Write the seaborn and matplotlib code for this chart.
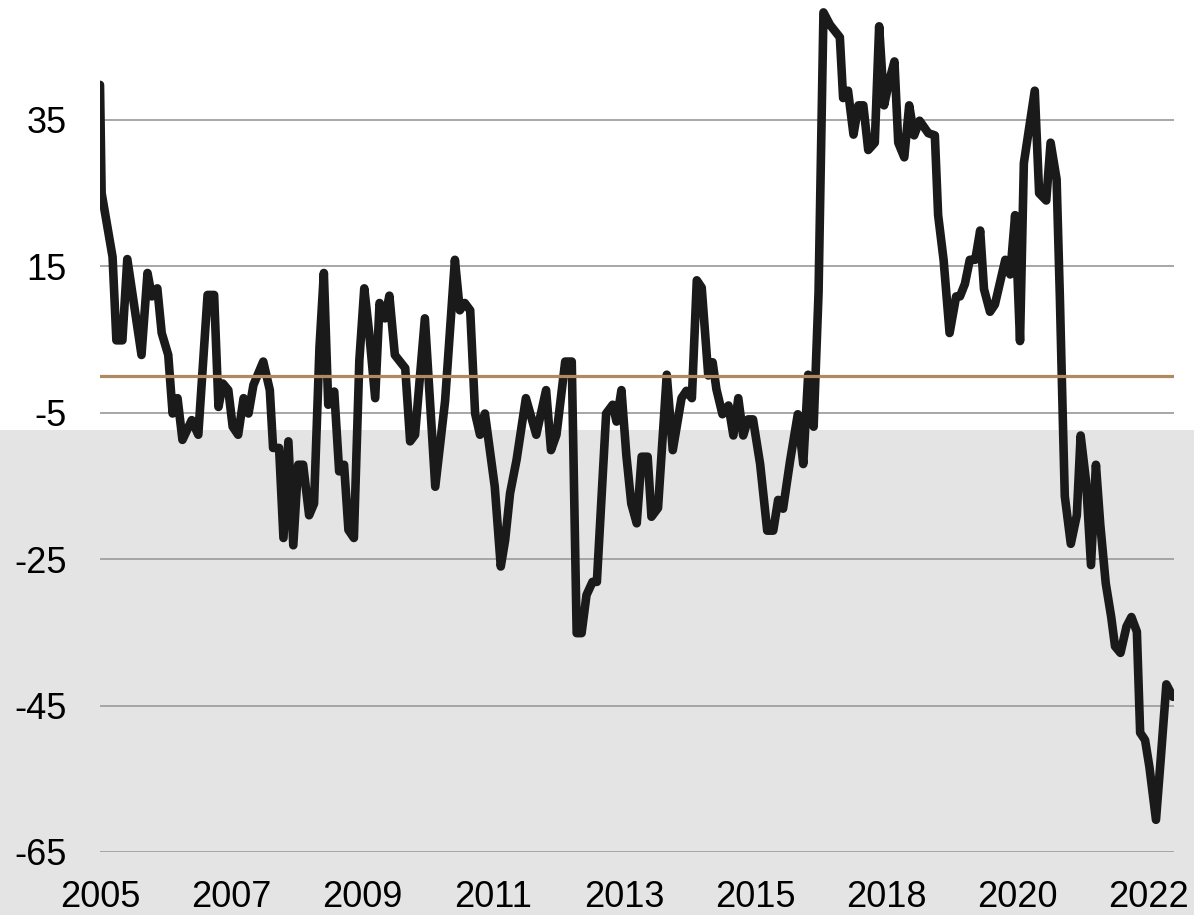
import numpy as np
import pandas as pd
import seaborn as sns
import matplotlib.pyplot as plt
from matplotlib.patches import Rectangle

# month index (from Jan 2005) of each turning point, and the value there
month = [0.0, 0.3, 2.3, 3.0, 4.1, 5.0, 7.6, 8.7, 9.5, 10.5, 11.3, 12.5, 13.3, 14.2,
         15.1, 16.8, 18.0, 19.7, 20.9, 21.7, 22.5, 23.5, 24.3, 25.3, 26.3, 27.2,
         28.1, 29.9, 31.1, 31.7, 32.8, 33.6, 34.5, 35.4, 36.3, 37.2, 38.3, 39.2,
         40.2, 41.0, 41.8, 42.9, 43.8, 44.7, 45.5, 46.5, 47.5, 48.4, 49.3, 50.4,
         51.2, 52.2, 53.0, 54.0, 55.9, 56.8, 57.7, 59.5, 61.4, 63.2, 65.0, 65.9,
         66.8, 67.8, 68.7, 69.6, 70.5, 72.3, 73.4, 74.2, 75.1, 76.3, 78.0, 79.9,
         81.7, 82.6, 83.6, 85.2, 86.4, 87.3, 88.2, 89.1, 90.2, 91.0, 92.7, 93.9,
         94.6, 95.5, 96.4, 97.3, 98.3, 99.2, 100.3, 101.0, 102.2, 103.8, 104.9,
         106.5, 107.4, 108.4, 109.3, 110.2, 111.4, 112.2, 112.9, 114.0, 115.1,
         116.0, 116.9, 117.8, 118.7, 119.6, 120.9, 122.2, 123.3, 124.2, 125.1,
         126.4, 127.8, 128.8, 129.7, 130.7, 131.6, 132.5, 133.7, 135.5, 136.1,
         137.0, 138.0, 138.9, 139.8, 140.7, 141.9, 142.7, 143.6, 144.6, 145.5,
         146.2, 147.3, 148.2, 149.1, 150.1, 151.7, 152.9, 153.5, 154.5, 155.6,
         156.8, 157.5, 158.4, 159.3, 160.3, 161.2, 161.9, 163.0, 163.9, 165.8,
         166.7, 167.6, 168.5, 169.2, 171.2, 172.0, 173.3, 174.1, 175.2, 175.8,
         176.4, 176.7, 177.8, 178.9, 179.6, 180.6, 181.5, 182.4, 183.2, 184.2,
         185.2, 185.9, 186.9, 188.0, 188.9, 189.9, 190.5, 191.4, 192.2, 193.4,
         194.3, 195.3, 196.5]
value = [39.8, 25.0, 16.3, 4.9, 4.9, 16.0, 2.9, 14.1, 10.9, 12.0, 5.9, 2.9, -5.1, -3.0,
         -8.7, -6.0, -8.0, 11.1, 11.1, -4.2, -1.0, -1.9, -6.9, -8.0, -3.0, -5.1,
         -1.2, 2.0, -1.9, -9.8, -9.8, -22.1, -8.9, -23.1, -12.1, -12.1, -19.0, -17.4,
         4.0, 14.1, -3.9, -2.1, -13.0, -12.1, -21.0, -22.1, 2.2, 12.0, 5.9, -3.0,
         10.0, 7.9, 11.0, 2.9, 1.1, -8.9, -8.0, 7.9, -15.1, -3.4, 15.9, 9.0,
         10.0, 9.0, -5.1, -8.0, -5.1, -15.1, -26.0, -22.4, -16.0, -11.4, -3.0, -8.0,
         -1.9, -10.1, -8.0, 2.0, 2.0, -35.1, -35.1, -29.9, -28.1, -28.1, -5.1, -3.9,
         -6.2, -1.9, -10.8, -17.4, -20.1, -11.0, -11.0, -19.2, -18.0, 0.2, -10.1,
         -3.0, -2.0, -3.0, 13.1, 12.1, 0.1, 1.9, -1.8, -5.2, -4.0,
         -8.1, -3.0, -8.1, -5.9, -5.9, -12.0, -21.1, -21.1, -16.9, -18.1,
         -11.5, -5.2, -12.0, 0.2, -6.9, 11.4, 49.7, 48.0, 46.3, 38.0,
         39.0, 33.0, 37.0, 37.0, 30.9, 31.9, 47.8, 37.0, 40.5, 43.0,
         31.9, 29.9, 37.0, 32.9, 34.9, 33.2, 32.9, 22.0, 15.9, 5.9,
         10.9, 10.9, 12.6, 15.9, 15.9, 19.9, 11.9, 8.8, 9.8, 15.9,
         13.9, 22.0, 4.8, 29.1, 39.0, 25.0, 24.0, 31.9, 26.9, 10.7,
         -7.8, -16.4, -22.9, -19.0, -8.1, -14.4, -25.8, -12.1, -20.3, -28.3,
         -32.9, -36.9, -37.8, -34.2, -32.9, -34.9, -48.7, -49.7, -53.4, -60.6,
         -52.0, -42.1, -43.8]

tick_pos = [0, 24, 48, 72, 96, 120, 144, 168, 192]
tick_labels = ['2005', '2007', '2009', '2011', '2013', '2015', '2018', '2020', '2022']
y_ticks = [35, 15, -5, -25, -45, -65]
baseline = 0

df = pd.DataFrame({'month': month, 'value': value})

sns.set_theme(style='white')
plt.rcParams['font.family'] = ['Liberation Sans', 'DejaVu Sans']
plt.rcParams['axes.unicode_minus'] = False

fig = plt.figure(figsize=(11.94, 9.15), dpi=100)
fig.patch.set_facecolor('white')
# grey band across the lower part of the figure, behind the axes
band = Rectangle((0, 0), 1, 485 / 915, transform=fig.transFigure,
                 facecolor='#e4e4e4', edgecolor='none', zorder=-10)
fig.add_artist(band)

ax = fig.add_axes([100 / 1194, 63 / 915, 1074 / 1194, 844 / 915])
ax.set_facecolor('none')
ax.set_zorder(1)

sns.lineplot(data=df, x='month', y='value', ax=ax, color='#1a1a1a',
             linewidth=6.2, zorder=3)
ax.axhline(baseline, color='#b08a5e', linewidth=2.3, zorder=4)

ax.set_xlim(0, 196.7)
ax.set_ylim(-65, 50.3)
ax.set_yticks(y_ticks)
ax.set_xticks(tick_pos)
ax.set_xticklabels(tick_labels)
ax.yaxis.grid(True, color='#a0a0a0', linewidth=1.3, zorder=1)
ax.xaxis.grid(False)
for s in ax.spines.values():
    s.set_visible(False)
ax.tick_params(axis='both', length=0, labelsize=26, colors='black')
ax.tick_params(axis='y', pad=24)
ax.tick_params(axis='x', pad=20)
ax.set_xlabel('')
ax.set_ylabel('')

fig.savefig('out.png', dpi=100)
